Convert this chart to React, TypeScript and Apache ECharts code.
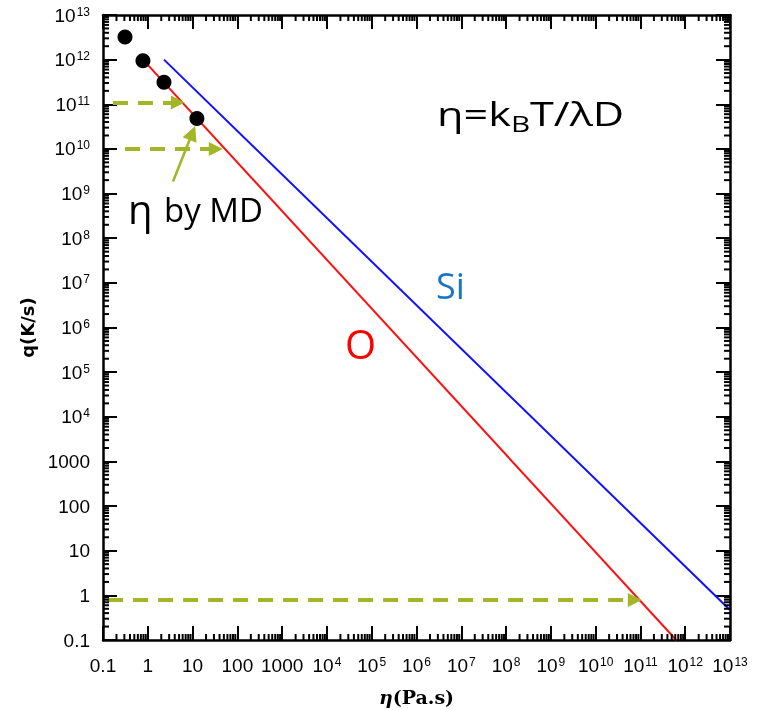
import React, { useEffect, useRef } from "react";
import * as echarts from "echarts";

// MD-computed viscosities (Pa.s) and the matching cooling rates (K/s)
const mdViscosity = [0.31, 0.78, 2.3, 12.5];
const mdRate = [3.2e12, 9.5e11, 3.1e11, 4.8e10];

// Stokes-Einstein curves  eta = kB T / (lambda D)
const oxygenEta = [0.78, 6.3e11];
const oxygenRate = [1e12, 0.1];
const siliconEta = [2.3, 1e13];
const siliconRate = [1e12, 0.47];

// dashed arrows: [startEta, endEta, rate]
const arrowStartEta = [0.167, 0.31, 0.13];
const arrowEndEta = [4.7, 33, 7.5e10];
const arrowRate = [1.1e11, 1e10, 0.79];

// pointer from the "eta by MD" label to the last MD point
const pointerEta = [3.65, 9.9];
const pointerRate = [1.86e9, 2.27e10];

const axisMin = 0.1;
const axisMax = 1e13;
const decadeExponents = [-1, 0, 1, 2, 3, 4, 5, 6, 7, 8, 9, 10, 11, 12];
const minorMantissas = [2, 3, 4, 5, 6, 7, 8, 9];

const GREEN = "#a2b628";

// plot box in pixels (layout)
const GRID = { left: 103, right: 28, top: 15, bottom: 70 };
const W = 758;
const H = 710;

function fmt(v: number): string {
  const e = Math.round(Math.log10(v));
  if (e === -1) return "0.1";
  if (e <= 3) return String(Math.pow(10, e));
  return "10{s|" + e + "}";
}

const labelRich = {
  s: { fontSize: 12, verticalAlign: "top", fontFamily: "Liberation Sans", color: "#000", padding: [0, 0, 0, 1] },
};

const textGraphics = [
  {
    type: "text",
    x: 437,
    y: 113,
    scaleX: 1.35,
    style: {
      text: "η=k{sub|B}T/λD",
      fontFamily: "Open Sans",
      fontSize: 32,
      fill: "#000",
      verticalAlign: "middle",
      rich: { sub: { fontFamily: "Open Sans", fontSize: 22, verticalAlign: "bottom", padding: [0, 0, -6, 0] } },
    },
  },
  {
    type: "text",
    x: 128,
    y: 208,
    style: { text: "η", fontFamily: "Open Sans", fontSize: 40, fill: "#000", verticalAlign: "middle" },
  },
  {
    type: "text",
    x: 164,
    y: 209,
    style: { text: "by MD", fontFamily: "Open Sans", fontSize: 33, fill: "#000", verticalAlign: "middle" },
  },
  {
    type: "text",
    x: 436,
    y: 285,
    style: { text: "Si", fontFamily: "Open Sans", fontSize: 36, fill: "#1976c6", verticalAlign: "middle" },
  },
  {
    type: "text",
    x: 345,
    y: 343,
    style: { text: "O", fontFamily: "Open Sans", fontSize: 40, fill: "#ff0000", verticalAlign: "middle" },
  },
];

export default function App() {
  const ref = useRef<HTMLDivElement>(null);
  useEffect(() => {
    if (!ref.current) return;
    const chart = echarts.init(ref.current, null, { renderer: "svg" });

    const baseAxis = {
      type: "log",
      logBase: 10,
      min: axisMin,
      max: axisMax,
      interval: 1,
      splitLine: { show: false },
      axisLine: { show: true, onZero: false, lineStyle: { color: "#000", width: 2.5 } },
      axisTick: { show: true, inside: true, length: 14, lineStyle: { color: "#000", width: 2 } },
    };

    chart.setOption({
      animation: false,
      grid: { ...GRID, outerBoundsMode: "none", containLabel: false },
      xAxis: [
        {
          ...baseAxis,
          position: "bottom",
          name: "{i|η}(Pa.s)",
          nameLocation: "middle",
          nameGap: 47,
          nameTextStyle: {
            fontFamily: "DejaVu Serif",
            fontWeight: "bold",
            fontSize: 19,
            color: "#000",
            rich: { i: { fontFamily: "DejaVu Serif", fontStyle: "italic", fontWeight: "bold", fontSize: 19 } },
          },
          axisLabel: {
            show: true,
            margin: 16,
            formatter: fmt,
            fontFamily: "Liberation Sans",
            fontSize: 19,
            color: "#000",
            showMinLabel: true,
            showMaxLabel: true,
            hideOverlap: false,
            rich: labelRich,
          },
        },
        { ...baseAxis, position: "top", axisLabel: { show: false } },
      ],
      yAxis: [
        {
          ...baseAxis,
          position: "left",
          name: "q(K/s)",
          nameLocation: "middle",
          nameGap: 66,
          nameRotate: 90,
          nameTextStyle: { fontFamily: "DejaVu Sans", fontWeight: "bold", fontSize: 18, color: "#000" },
          axisLabel: {
            show: true,
            margin: 13,
            formatter: fmt,
            fontFamily: "Liberation Sans",
            fontSize: 19,
            color: "#000",
            showMinLabel: true,
            showMaxLabel: true,
            hideOverlap: false,
            rich: labelRich,
          },
        },
        { ...baseAxis, position: "right", axisLabel: { show: false } },
      ],
      series: [
        {
          name: "O",
          type: "line",
          data: oxygenEta.map((x, i) => [x, oxygenRate[i]]),
          showSymbol: false,
          symbol: "none",
          lineStyle: { color: "#ff1010", width: 2 },
          z: 3,
        },
        {
          name: "Si",
          type: "line",
          data: siliconEta.map((x, i) => [x, siliconRate[i]]),
          showSymbol: false,
          symbol: "none",
          lineStyle: { color: "#1010ff", width: 2 },
          z: 3,
        },
        {
          name: "MD",
          type: "scatter",
          data: mdViscosity.map((x, i) => [x, mdRate[i]]),
          symbol: "circle",
          symbolSize: 15,
          itemStyle: { color: "#000", opacity: 1 },
          z: 6,
        },
        {
          name: "arrows",
          type: "lines",
          coordinateSystem: "cartesian2d",
          data: arrowRate.map((q, i) => ({ coords: [[arrowStartEta[i], q], [arrowEndEta[i], q]] })),
          symbol: ["none", "triangle"],
          symbolSize: [15, 14],
          lineStyle: { color: GREEN, width: 4, type: [15, 10], opacity: 1 },
          z: 4,
        },
        {
          name: "pointer",
          type: "lines",
          coordinateSystem: "cartesian2d",
          data: [{ coords: [[pointerEta[0], pointerRate[0]], [pointerEta[1], pointerRate[1]]] }],
          symbol: ["none", "triangle"],
          symbolSize: [14, 15],
          lineStyle: { color: GREEN, width: 2.5, type: "solid", opacity: 1 },
          z: 4,
        },
      ],
      graphic: textGraphics,
    });

    // minor ticks (2..9 in every decade) on all four sides, positioned through the axes' own scales
    const x0 = chart.convertToPixel({ xAxisIndex: 0 }, axisMin) as number;
    const x1 = chart.convertToPixel({ xAxisIndex: 0 }, axisMax) as number;
    const y0 = chart.convertToPixel({ yAxisIndex: 0 }, axisMin) as number;
    const y1 = chart.convertToPixel({ yAxisIndex: 0 }, axisMax) as number;
    const len = 6;
    const tickStyle = { stroke: "#000", lineWidth: 2 };
    const tickGraphics: any[] = [];
    decadeExponents.forEach((d) =>
      minorMantissas.forEach((m) => {
        const v = m * Math.pow(10, d);
        const px = chart.convertToPixel({ xAxisIndex: 0 }, v) as number;
        const py = chart.convertToPixel({ yAxisIndex: 0 }, v) as number;
        tickGraphics.push({ type: "line", shape: { x1: px, y1: y0, x2: px, y2: y0 - len }, style: tickStyle, z: 5 });
        tickGraphics.push({ type: "line", shape: { x1: px, y1: y1, x2: px, y2: y1 + len }, style: tickStyle, z: 5 });
        tickGraphics.push({ type: "line", shape: { x1: x0, y1: py, x2: x0 + len, y2: py }, style: tickStyle, z: 5 });
        tickGraphics.push({ type: "line", shape: { x1: x1, y1: py, x2: x1 - len, y2: py }, style: tickStyle, z: 5 });
      })
    );
    chart.setOption({ graphic: [...textGraphics, ...tickGraphics] });

    return () => chart.dispose();
  }, []);
  return <div ref={ref} style={{ position: "fixed", left: 0, top: 0, width: W, height: H }} />;
}
